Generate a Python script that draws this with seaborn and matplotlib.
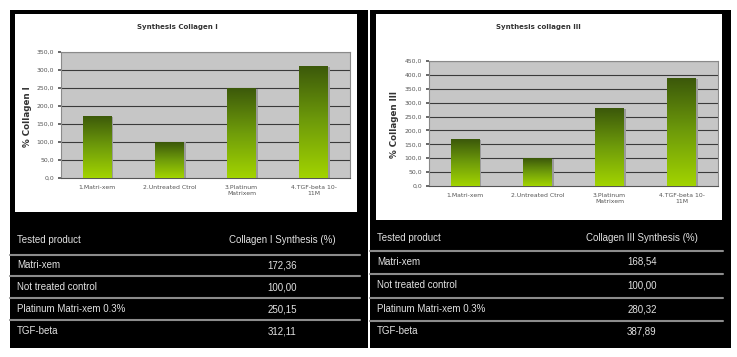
import numpy as np
import matplotlib
matplotlib.use("Agg")
import matplotlib.pyplot as plt
import seaborn as sns
from matplotlib.colors import LinearSegmentedColormap
from matplotlib.patches import Rectangle

# Data
categories = ["1.Matri-xem", "2.Untreated Ctrol", "3.Platinum\nMatrixem", "4.TGF-beta 10-\n11M"]
products = ["Matri-xem", "Not treated control", "Platinum Matri-xem 0.3%", "TGF-beta"]
collagen1 = [172.36, 100.00, 250.15, 312.11]
collagen3 = [168.54, 100.00, 280.32, 387.89]

sns.set_theme(style="white")
plt.rcParams['font.family'] = ['DejaVu Sans']

W, H = 737, 357
fig = plt.figure(figsize=(W / 100, H / 100), dpi=100)
fig.patch.set_facecolor("white")

# background canvas in pixel coords
bg = fig.add_axes([0, 0, 1, 1])
bg.set_xlim(0, W)
bg.set_ylim(H, 0)
bg.axis("off")

green = LinearSegmentedColormap.from_list("grn", ["#a2d400", "#6f9c0a", "#3b580a"])


def fmt(v):
    return f"{v:.2f}".replace(".", ",")


def gradient_bars(ax):
    grad = np.linspace(0, 1, 256).reshape(-1, 1)
    for p in ax.patches:
        x0, y0 = p.get_x(), p.get_y()
        w, h = p.get_width(), p.get_height()
        p.set_facecolor("none")
        p.set_edgecolor("none")
        im = ax.imshow(grad, cmap=green, aspect="auto", origin="lower",
                       extent=[x0, x0 + w, y0, y0 + h], zorder=3)
        im.set_clip_path(p)
        # subtle side shadow
        ax.add_patch(Rectangle((x0 + w, y0), w * 0.06, h * 0.99, color="#9a9a9a", zorder=2, lw=0))


def panel(px0, px1, wy1, wx0, wx1, ax_rect, values, ymax, title, ylabel, title_x, ylab_x, ylab_y,
          head_y, seps, rows_y, val_x, col_head):
    # black frame
    bg.add_patch(Rectangle((px0, 10), px1 - px0, 338, color="black", lw=0))
    # white chart area
    bg.add_patch(Rectangle((wx0, 14), wx1 - wx0, wy1 - 14, color="white", lw=0))
    bg.text(title_x, 27, title, ha="center", va="center", fontsize=5, fontweight="bold", color="#333333")
    bg.text(ylab_x, ylab_y, ylabel, ha="center", va="center", fontsize=6.3, fontweight="bold",
            rotation=90, color="#333333")

    ax = fig.add_axes(ax_rect)
    sns.barplot(x=categories, y=values, ax=ax, width=0.4, color="#7aa010", saturation=1)
    ax.set_facecolor("#c6c6c6")
    ax.set_ylim(0, ymax)
    ax.set_xlim(-0.5, 3.5)
    ticks = np.arange(0, ymax + 1, 50)
    ax.set_yticks(ticks)
    ax.set_yticklabels([f"{t:.1f}".replace(".", ",") for t in ticks], fontsize=4.4, color="#555555")
    ax.set_xticks(range(4))
    ax.set_xticklabels(categories, fontsize=4.4, color="#555555")
    ax.tick_params(axis="x", length=0, pad=5)
    ax.set_xticks([0.5, 1.5, 2.5], minor=True)
    ax.tick_params(axis="x", which="minor", length=2, color="#555555", direction="out")
    ax.tick_params(axis="y", length=2, pad=3, color="#555555", direction="out", left=True)
    ax.set_xlabel("")
    ax.set_ylabel("")
    for t in ticks[1:]:
        ax.axhline(t, color="#3a3a3a", lw=0.8, zorder=1)
    for s in ax.spines.values():
        s.set_color("#8a8a8a")
        s.set_linewidth(0.8)
    ax.spines["bottom"].set_color("#555555")
    gradient_bars(ax)

    # table
    tcol = "#e2e2e2"
    fs = 7
    bg.text(px0 + 7, head_y, "Tested product", ha="left", va="center", fontsize=fs, color=tcol,
            family="Liberation Sans")
    bg.text(val_x, head_y, col_head, ha="center", va="center", fontsize=fs, color=tcol,
            family="Liberation Sans")
    for sy in seps:
        bg.plot([px0, px1 - 8], [sy, sy], color="#8c8c8c", lw=1.5)
    for name, v, ry in zip(products, values, rows_y):
        bg.text(px0 + 7, ry, name, ha="left", va="center", fontsize=fs, color=tcol,
                family="Liberation Sans")
        bg.text(val_x, ry, fmt(v), ha="center", va="center", fontsize=fs, color=tcol,
                family="Liberation Sans")


panel(10, 368, 212, 15, 357,
      [61 / W, 1 - 178 / H, 289 / W, 126 / H],
      collagen1, 350, "Synthesis Collagen I", "% Collagen I", 177, 28, 117,
      240, [255, 276, 298, 320], [265, 287, 309, 331], 282, "Collagen I Synthesis (%)")

panel(370, 731, 220, 376, 722,
      [429 / W, 1 - 186 / H, 289 / W, 125 / H],
      collagen3, 450, "Synthesis collagen III", "% Collagen III", 538, 395, 125,
      238, [251, 274, 298, 321], [262, 285, 309, 331], 642, "Collagen III Synthesis (%)")

fig.savefig("out.png", dpi=100, facecolor=fig.get_facecolor())
